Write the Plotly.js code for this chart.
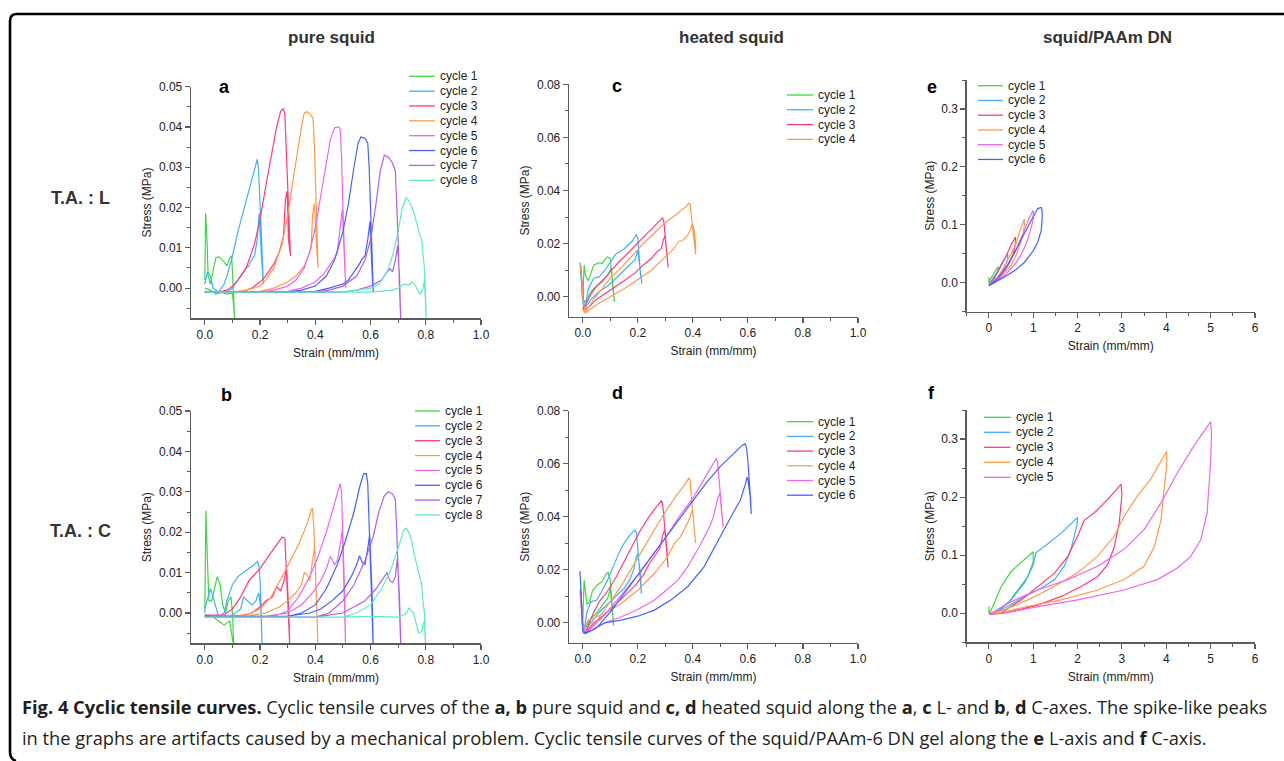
<!DOCTYPE html>
<html><head><meta charset="utf-8">
<script src="https://cdn.plot.ly/plotly-3.0.1.min.js"></script>
<style>html,body{margin:0;padding:0;background:#fff;} #chart{width:1284px;height:761px;}</style>
</head><body><div id="chart"></div>
<script>
// ---------------- DATA ----------------
const CYCLE_NAMES = ['cycle 1','cycle 2','cycle 3','cycle 4','cycle 5','cycle 6','cycle 7','cycle 8'];
const CYCLE_COLORS = ['#3ed83e','#3daeff','#ff3a7f','#ff9a48','#ee66ee','#4461ff','#b05cf0','#59eeb8'];
const COLUMN_TITLES = ['pure squid','heated squid','squid/PAAm DN'];
const ROW_TITLES = ['T.A. : L','T.A. : C'];
const X_TITLE = 'Strain (mm/mm)';
const Y_TITLE = 'Stress (MPa)';

// Panel a: pure squid, L-axis
const a1_strain = [0.0,0.003,0.008,0.012,0.02,0.03,0.04,0.05,0.06,0.07,0.08,0.09,0.097,0.1,0.103,0.106,0.11,0.1,0.08,0.06,0.04,0.02,0.0];
const a1_stress = [0.002,0.0185,0.012,0.003,0.001,0.004,0.0075,0.0078,0.0072,0.0065,0.0055,0.0075,0.008,0.005,0.0,-0.005,-0.009,-0.0012,-0.0015,-0.001,-0.0015,-0.0005,0.0];
const a2_strain = [0.0,0.01,0.02,0.03,0.05,0.07,0.08,0.1,0.12,0.15,0.17,0.185,0.19,0.195,0.2,0.205,0.21,0.212,0.205,0.197,0.19,0.18,0.165,0.16,0.15,0.12,0.1,0.08,0.05,0.02,0.0];
const a2_stress = [0.001,0.004,0.003,0.0,-0.001,0.001,0.003,0.008,0.014,0.022,0.027,0.031,0.032,0.029,0.02,0.012,0.003,0.001,0.008,0.0185,0.012,0.008,0.0065,0.0055,0.005,0.002,0.0,-0.001,-0.0012,-0.001,-0.001];
const a3_strain = [0.0,0.05,0.08,0.1,0.12,0.15,0.18,0.2,0.22,0.24,0.26,0.275,0.285,0.29,0.295,0.3,0.305,0.31,0.303,0.298,0.292,0.285,0.27,0.25,0.22,0.2,0.17,0.14,0.1,0.05,0.0];
const a3_stress = [-0.001,-0.001,-0.0005,0.0005,0.002,0.005,0.011,0.017,0.025,0.033,0.04,0.044,0.0445,0.043,0.035,0.025,0.015,0.008,0.012,0.024,0.022,0.013,0.009,0.006,0.003,0.0015,0.0,-0.0008,-0.001,-0.001,-0.001];
const a4_strain = [0.0,0.1,0.15,0.2,0.22,0.25,0.28,0.3,0.32,0.34,0.35,0.36,0.37,0.385,0.392,0.397,0.402,0.406,0.41,0.405,0.397,0.39,0.385,0.375,0.36,0.33,0.3,0.25,0.2,0.1,0.0];
const a4_stress = [-0.001,-0.001,-0.0005,0.0005,0.002,0.005,0.011,0.018,0.027,0.036,0.04,0.0435,0.0438,0.043,0.042,0.035,0.025,0.015,0.005,0.01,0.021,0.018,0.01,0.008,0.0055,0.003,0.0015,0.0,-0.0008,-0.001,-0.001];
const a5_strain = [0.0,0.2,0.25,0.3,0.33,0.36,0.38,0.4,0.42,0.44,0.455,0.47,0.485,0.49,0.495,0.5,0.505,0.51,0.505,0.498,0.49,0.48,0.47,0.455,0.43,0.4,0.35,0.3,0.2,0.0];
const a5_stress = [-0.001,-0.001,-0.0005,0.0005,0.002,0.005,0.009,0.015,0.023,0.031,0.037,0.0398,0.04,0.0395,0.033,0.02,0.01,0.0,0.008,0.0195,0.015,0.009,0.0075,0.006,0.0035,0.0015,0.0,-0.0008,-0.001,-0.001];
const a6_strain = [0.0,0.3,0.35,0.4,0.44,0.47,0.5,0.52,0.54,0.555,0.565,0.58,0.59,0.595,0.6,0.605,0.61,0.605,0.598,0.59,0.58,0.57,0.56,0.54,0.52,0.5,0.45,0.4,0.3,0.0];
const a6_stress = [-0.001,-0.001,-0.0005,0.0005,0.003,0.007,0.014,0.021,0.03,0.036,0.0375,0.0372,0.036,0.03,0.02,0.01,-0.001,0.005,0.0165,0.012,0.008,0.0073,0.006,0.004,0.002,0.001,0.0,-0.0008,-0.001,-0.001];
const a7_strain = [0.0,0.4,0.45,0.5,0.55,0.58,0.6,0.62,0.635,0.65,0.665,0.68,0.69,0.695,0.7,0.705,0.71,0.705,0.698,0.69,0.68,0.67,0.66,0.64,0.6,0.55,0.5,0.0];
const a7_stress = [-0.001,-0.001,-0.0005,0.0005,0.003,0.007,0.012,0.021,0.029,0.033,0.0325,0.031,0.029,0.022,0.012,0.0,-0.009,0.003,0.0105,0.007,0.004,0.0048,0.004,0.002,0.0005,-0.0005,-0.001,-0.001];
const a8_strain = [0.0,0.5,0.55,0.6,0.63,0.66,0.68,0.7,0.715,0.73,0.745,0.76,0.775,0.785,0.795,0.8,0.803,0.795,0.79,0.78,0.77,0.76,0.75,0.74,0.72,0.7,0.68,0.6,0.0];
const a8_stress = [-0.001,-0.001,-0.0005,0.0,0.001,0.004,0.008,0.014,0.02,0.0225,0.021,0.018,0.014,0.012,0.005,-0.003,-0.009,0.002,0.0,-0.0015,-0.0005,0.001,0.0015,0.0008,0.001,0.0,-0.0005,-0.001,-0.001];

// Panel b: pure squid, C-axis
const b1_strain = [0.0,0.004,0.01,0.015,0.025,0.035,0.045,0.055,0.065,0.075,0.085,0.095,0.1,0.103,0.106,0.09,0.07,0.05,0.03,0.0];
const b1_stress = [0.0,0.0253,0.012,0.003,0.003,0.006,0.009,0.007,0.002,0.0,0.003,0.004,0.0,-0.005,-0.009,-0.002,-0.003,-0.002,-0.001,-0.0005];
const b2_strain = [0.0,0.02,0.03,0.05,0.07,0.08,0.1,0.12,0.15,0.18,0.19,0.195,0.2,0.205,0.208,0.203,0.195,0.185,0.17,0.15,0.14,0.13,0.1,0.05,0.0];
const b2_stress = [0.001,0.006,0.004,-0.001,0.0,0.003,0.007,0.009,0.0105,0.012,0.0128,0.012,0.008,0.0,-0.009,0.001,0.005,0.003,0.002,0.0035,0.004,0.001,-0.0005,-0.0008,-0.0005];
const b3_strain = [0.0,0.07,0.1,0.13,0.16,0.2,0.23,0.26,0.28,0.29,0.295,0.3,0.305,0.308,0.303,0.296,0.287,0.275,0.26,0.245,0.22,0.2,0.17,0.12,0.0];
const b3_stress = [-0.0005,-0.0005,0.001,0.004,0.008,0.011,0.014,0.017,0.0188,0.0185,0.012,0.004,-0.003,-0.009,0.002,0.011,0.008,0.0055,0.0065,0.004,0.003,0.0015,0.0,-0.0008,-0.0008];
const b4_strain = [0.0,0.15,0.2,0.24,0.28,0.31,0.34,0.37,0.385,0.39,0.395,0.4,0.405,0.41,0.405,0.398,0.39,0.38,0.37,0.36,0.35,0.33,0.3,0.27,0.22,0.15,0.0];
const b4_stress = [-0.0008,-0.0005,0.001,0.004,0.009,0.013,0.017,0.022,0.0255,0.026,0.021,0.012,0.0,-0.009,0.005,0.0165,0.013,0.008,0.0095,0.01,0.007,0.005,0.003,0.0015,0.0,-0.0008,-0.0008];
const b5_strain = [0.0,0.25,0.3,0.34,0.38,0.41,0.44,0.46,0.48,0.49,0.495,0.5,0.505,0.51,0.505,0.498,0.49,0.48,0.47,0.455,0.44,0.42,0.39,0.35,0.3,0.2,0.0];
const b5_stress = [-0.001,-0.0008,0.0005,0.004,0.009,0.014,0.02,0.025,0.03,0.032,0.03,0.02,0.008,-0.009,0.006,0.0205,0.017,0.013,0.012,0.014,0.011,0.008,0.005,0.002,0.0,-0.001,-0.001];
const b6_strain = [0.0,0.3,0.35,0.4,0.44,0.48,0.51,0.54,0.56,0.575,0.585,0.59,0.595,0.6,0.605,0.61,0.605,0.597,0.59,0.58,0.57,0.56,0.55,0.53,0.5,0.46,0.42,0.38,0.3,0.0];
const b6_stress = [-0.0008,-0.0008,0.0,0.002,0.006,0.012,0.018,0.025,0.031,0.0345,0.0345,0.032,0.022,0.012,0.0,-0.009,0.006,0.0195,0.016,0.012,0.0125,0.0142,0.012,0.009,0.0055,0.003,0.001,0.0,-0.0008,-0.0008];
const b7_strain = [0.0,0.4,0.45,0.5,0.54,0.58,0.61,0.63,0.65,0.665,0.68,0.69,0.695,0.7,0.705,0.71,0.705,0.697,0.69,0.68,0.67,0.66,0.65,0.62,0.58,0.54,0.5,0.4,0.0];
const b7_stress = [-0.001,-0.001,0.0,0.003,0.007,0.013,0.019,0.025,0.029,0.03,0.0295,0.028,0.02,0.01,0.0,-0.009,0.004,0.0135,0.009,0.0075,0.008,0.01,0.009,0.006,0.003,0.0015,0.0,-0.001,-0.001];
const b8_strain = [0.0,0.5,0.55,0.6,0.64,0.67,0.7,0.72,0.73,0.745,0.76,0.775,0.785,0.79,0.795,0.8,0.795,0.79,0.785,0.775,0.765,0.755,0.745,0.74,0.73,0.72,0.7,0.6,0.5,0.0];
const b8_stress = [-0.001,-0.001,0.0,0.002,0.006,0.01,0.016,0.0205,0.021,0.019,0.014,0.01,0.007,0.003,0.0,-0.009,-0.002,-0.003,-0.0045,-0.005,-0.0025,0.0,0.0008,0.0012,0.0,-0.0005,-0.001,-0.0008,-0.001,-0.001];

// Panel c: heated squid, L-axis
const c1_strain = [-0.008,-0.003,0.0,0.005,0.01,0.02,0.03,0.04,0.06,0.07,0.08,0.09,0.1,0.105,0.11,0.115,0.112,0.104,0.09,0.07,0.05,0.03,0.015,0.005,0.0];
const c1_stress = [0.012,0.004,-0.001,0.012,0.008,0.006,0.009,0.012,0.0128,0.0125,0.014,0.015,0.0145,0.01,0.003,-0.002,0.002,0.011,0.008,0.0055,0.004,0.002,-0.001,-0.002,0.0];
const c2_strain = [-0.01,-0.005,0.0,0.005,0.01,0.02,0.04,0.06,0.08,0.1,0.12,0.15,0.18,0.195,0.2,0.205,0.21,0.215,0.21,0.2,0.19,0.17,0.15,0.12,0.09,0.06,0.03,0.01,0.0];
const c2_stress = [0.013,0.005,-0.002,-0.004,-0.003,0.003,0.007,0.0075,0.01,0.013,0.016,0.018,0.021,0.0235,0.022,0.015,0.008,0.005,0.01,0.0175,0.014,0.012,0.01,0.007,0.004,0.002,-0.001,-0.004,-0.004];
const c3_strain = [-0.008,0.0,0.005,0.01,0.03,0.05,0.08,0.1,0.13,0.16,0.2,0.23,0.26,0.29,0.295,0.3,0.305,0.31,0.305,0.299,0.293,0.285,0.27,0.25,0.22,0.19,0.15,0.12,0.09,0.05,0.02,0.005,0.0];
const c3_stress = [0.012,0.0,-0.004,-0.003,0.001,0.004,0.007,0.0095,0.013,0.016,0.0205,0.0235,0.0265,0.0298,0.028,0.022,0.016,0.011,0.016,0.023,0.0215,0.018,0.017,0.0145,0.012,0.009,0.006,0.004,0.002,-0.001,-0.004,-0.005,-0.004];
const c4_strain = [-0.008,0.0,0.008,0.02,0.04,0.07,0.1,0.14,0.18,0.22,0.26,0.3,0.34,0.37,0.385,0.39,0.395,0.4,0.405,0.41,0.41,0.405,0.398,0.39,0.38,0.36,0.35,0.33,0.3,0.25,0.2,0.15,0.1,0.05,0.01,0.0];
const c4_stress = [0.012,0.0,-0.006,-0.004,-0.001,0.003,0.007,0.011,0.0155,0.02,0.024,0.028,0.031,0.0335,0.0352,0.035,0.03,0.025,0.02,0.016,0.02,0.025,0.0275,0.025,0.023,0.021,0.021,0.018,0.015,0.01,0.0065,0.003,0.0,-0.003,-0.006,-0.005];

// Panel d: heated squid, C-axis
const d1_strain = [-0.008,0.0,0.005,0.01,0.015,0.025,0.035,0.05,0.07,0.085,0.092,0.1,0.105,0.11,0.112,0.108,0.1,0.09,0.08,0.06,0.045,0.03,0.02,0.01,0.0];
const d1_stress = [0.013,0.0,0.016,0.01,0.007,0.008,0.012,0.014,0.0155,0.0185,0.019,0.016,0.01,0.003,-0.001,0.005,0.013,0.009,0.008,0.005,0.003,0.002,0.0,-0.002,0.0];
const d2_strain = [-0.01,0.0,0.005,0.015,0.03,0.05,0.07,0.09,0.11,0.13,0.15,0.17,0.19,0.195,0.2,0.205,0.21,0.213,0.21,0.2,0.195,0.185,0.17,0.15,0.12,0.09,0.06,0.03,0.01,0.0];
const d2_stress = [0.012,-0.002,-0.003,0.004,0.008,0.0085,0.012,0.016,0.021,0.026,0.03,0.033,0.035,0.034,0.028,0.02,0.015,0.011,0.018,0.026,0.025,0.02,0.016,0.013,0.01,0.007,0.004,0.0,-0.003,-0.002];
const d3_strain = [-0.008,0.0,0.01,0.02,0.04,0.06,0.09,0.12,0.15,0.18,0.21,0.24,0.27,0.285,0.29,0.295,0.3,0.305,0.31,0.305,0.298,0.29,0.28,0.26,0.24,0.22,0.19,0.16,0.12,0.08,0.04,0.01,0.0];
const d3_stress = [0.012,-0.002,-0.004,-0.001,0.004,0.008,0.012,0.017,0.023,0.029,0.035,0.04,0.044,0.046,0.045,0.04,0.034,0.028,0.021,0.028,0.035,0.033,0.028,0.025,0.022,0.018,0.014,0.011,0.007,0.003,0.0,-0.004,-0.003];
const d4_strain = [-0.008,0.0,0.01,0.03,0.06,0.1,0.14,0.18,0.22,0.26,0.3,0.34,0.37,0.385,0.39,0.395,0.4,0.405,0.41,0.407,0.399,0.39,0.38,0.355,0.333,0.309,0.26,0.2,0.14,0.08,0.02,0.0];
const d4_stress = [0.012,-0.001,-0.004,-0.002,0.002,0.008,0.014,0.021,0.028,0.035,0.042,0.048,0.052,0.0545,0.054,0.047,0.042,0.035,0.03,0.035,0.043,0.04,0.0375,0.0325,0.03,0.025,0.0186,0.0123,0.0073,0.0035,0.001,-0.003];
const d5_strain = [-0.008,0.0,0.01,0.04,0.08,0.12,0.16,0.2,0.25,0.3,0.35,0.4,0.44,0.47,0.485,0.49,0.495,0.5,0.505,0.51,0.505,0.498,0.49,0.475,0.46,0.44,0.42,0.38,0.345,0.3,0.26,0.2,0.14,0.08,0.03,0.0];
const d5_stress = [0.012,-0.002,-0.004,-0.001,0.003,0.008,0.013,0.018,0.025,0.032,0.04,0.047,0.054,0.059,0.062,0.0605,0.055,0.048,0.042,0.036,0.042,0.049,0.047,0.04,0.036,0.032,0.028,0.021,0.016,0.012,0.0085,0.005,0.0023,0.0,-0.003,-0.003];
const d6_strain = [-0.01,-0.005,0.0,0.01,0.05,0.1,0.15,0.2,0.25,0.3,0.35,0.4,0.45,0.5,0.55,0.58,0.59,0.595,0.6,0.605,0.61,0.612,0.608,0.6,0.597,0.59,0.573,0.549,0.5,0.44,0.381,0.32,0.26,0.2,0.14,0.08,0.03,0.0];
const d6_stress = [0.0195,0.01,-0.003,-0.004,-0.002,0.004,0.011,0.018,0.025,0.032,0.039,0.046,0.053,0.059,0.064,0.067,0.0675,0.066,0.061,0.055,0.046,0.041,0.048,0.054,0.055,0.052,0.0463,0.042,0.0325,0.021,0.0136,0.0086,0.0048,0.0025,0.001,0.0,-0.003,-0.004];

// Panel e: squid/PAAm DN, L-axis
const e1_strain = [0.0,0.0,0.05,0.1,0.15,0.2,0.22,0.2,0.15,0.1,0.05,0.0];
const e1_stress = [0.01,0.0,0.008,0.015,0.021,0.026,0.028,0.02,0.012,0.005,0.0,0.0];
const e2_strain = [0.0,0.1,0.2,0.3,0.4,0.43,0.42,0.35,0.25,0.15,0.05,0.0];
const e2_stress = [-0.003,0.008,0.02,0.035,0.047,0.05,0.04,0.025,0.012,0.003,-0.002,-0.003];
const e3_strain = [0.0,0.1,0.2,0.3,0.4,0.5,0.6,0.6,0.55,0.45,0.35,0.25,0.15,0.05,0.0];
const e3_stress = [-0.004,0.005,0.018,0.032,0.048,0.065,0.079,0.068,0.05,0.033,0.02,0.01,0.002,-0.003,-0.004];
const e4_strain = [0.0,0.2,0.4,0.6,0.7,0.8,0.8,0.78,0.7,0.6,0.5,0.4,0.3,0.2,0.1,0.0];
const e4_stress = [-0.004,0.01,0.035,0.065,0.09,0.11,0.1,0.088,0.065,0.045,0.03,0.02,0.012,0.005,0.0,-0.004];
const e5_strain = [0.0,0.2,0.4,0.6,0.8,0.9,1.0,1.0,0.97,0.9,0.8,0.7,0.6,0.5,0.4,0.3,0.2,0.1,0.0];
const e5_stress = [-0.005,0.005,0.025,0.055,0.09,0.11,0.125,0.11,0.1,0.08,0.06,0.045,0.033,0.024,0.016,0.009,0.004,0.0,-0.005];
const e6_strain = [0.0,0.2,0.4,0.6,0.8,1.0,1.1,1.18,1.2,1.2,1.18,1.1,1.0,0.8,0.6,0.4,0.2,0.1,0.0];
const e6_stress = [-0.005,0.008,0.028,0.055,0.085,0.115,0.128,0.13,0.125,0.11,0.09,0.07,0.055,0.035,0.022,0.012,0.004,0.0,-0.005];

// Panel f: squid/PAAm DN, C-axis
const f1_strain = [0.0,0.0,0.05,0.28,0.5,0.8,1.0,1.0,0.95,0.88,0.65,0.43,0.2,0.05,0.0];
const f1_stress = [0.012,0.0,0.005,0.046,0.072,0.092,0.106,0.089,0.078,0.063,0.04,0.017,0.003,0.0,0.0];
const f2_strain = [0.05,0.13,0.5,0.8,0.99,1.06,1.25,1.63,2.0,1.99,1.96,1.85,1.7,1.48,1.18,0.8,0.43,0.13];
const f2_stress = [-0.003,0.0,0.023,0.052,0.081,0.104,0.115,0.138,0.165,0.155,0.144,0.11,0.081,0.058,0.043,0.029,0.012,0.0];
const f3_strain = [0.0,0.26,0.73,1.1,1.48,1.78,2.0,2.15,2.38,2.68,2.98,3.0,2.98,2.94,2.83,2.68,2.45,2.08,1.63,1.1,0.5,0.0];
const f3_stress = [-0.002,0.0,0.023,0.046,0.069,0.098,0.133,0.16,0.173,0.196,0.222,0.205,0.19,0.156,0.115,0.084,0.063,0.046,0.029,0.014,0.003,-0.002];
const f4_strain = [0.0,0.35,0.88,1.48,2.0,2.45,2.83,3.05,3.35,3.65,4.01,4.01,3.95,3.88,3.73,3.5,3.05,2.45,1.63,0.88,0.2,0.0];
const f4_stress = [-0.002,0.006,0.023,0.046,0.07,0.098,0.133,0.167,0.202,0.231,0.279,0.254,0.213,0.16,0.115,0.081,0.058,0.04,0.023,0.012,0.0,-0.002];
const f5_strain = [0.0,0.5,1.1,1.78,2.45,3.05,3.5,3.88,4.25,4.63,5.0,5.02,5.0,4.92,4.78,4.55,4.25,3.8,3.05,2.0,1.1,0.35,0.0];
const f5_stress = [-0.002,0.02,0.04,0.058,0.081,0.11,0.144,0.19,0.242,0.289,0.33,0.309,0.26,0.173,0.127,0.098,0.078,0.058,0.04,0.023,0.0115,0.0,-0.002];

// ---------------- LAYOUT ----------------
const W = 1284, H = 761;
const px = v => v / W;
const py = v => 1 - v / H;
const AXIS_COLOR = '#5c5c5c';
const TEXT_COLOR = '#222';
const FONT = 'Liberation Sans, Arial, sans-serif';

const PANELS = [
  {letter:'a', box:[191,481,86.7,318.3], xr:[-0.05,1.0], yr:[-0.0075,0.05], xd:0.2, xm:0.1, xf:'.1f', yd:0.01, ym:0.005, yf:'.2f',
   series:[[a1_strain,a1_stress],[a2_strain,a2_stress],[a3_strain,a3_stress],[a4_strain,a4_stress],[a5_strain,a5_stress],[a6_strain,a6_stress],[a7_strain,a7_stress],[a8_strain,a8_stress]],
   leg:{l0:409,l1:435,t:438,y0:76.3,dy:14.85}, lp:[224.5,86.5]},
  {letter:'c', box:[569,858,84.3,316.7], xr:[-0.05,1.0], yr:[-0.0075,0.08], xd:0.2, xm:0.1, xf:'.1f', yd:0.02, ym:0.01, yf:'.2f',
   series:[[c1_strain,c1_stress],[c2_strain,c2_stress],[c3_strain,c3_stress],[c4_strain,c4_stress]],
   leg:{l0:787,l1:813,t:816,y0:95,dy:14.8}, lp:[617,86]},
  {letter:'e', box:[966.7,1255,80,311.7], xr:[-0.5,6], yr:[-0.05,0.35], xd:1, xm:0.5, xf:'d', yd:0.1, ym:0.05, yf:'.1f',
   series:[[e1_strain,e1_stress],[e2_strain,e2_stress],[e3_strain,e3_stress],[e4_strain,e4_stress],[e5_strain,e5_stress],[e6_strain,e6_stress]],
   leg:{l0:978,l1:1003,t:1005.5,y0:85.7,dy:14.75}, lp:[932,86.5]},
  {letter:'b', box:[191,481,411,643.3], xr:[-0.05,1.0], yr:[-0.0075,0.05], xd:0.2, xm:0.1, xf:'.1f', yd:0.01, ym:0.005, yf:'.2f',
   series:[[b1_strain,b1_stress],[b2_strain,b2_stress],[b3_strain,b3_stress],[b4_strain,b4_stress],[b5_strain,b5_stress],[b6_strain,b6_stress],[b7_strain,b7_stress],[b8_strain,b8_stress]],
   leg:{l0:415,l1:440,t:443,y0:411,dy:14.85}, lp:[226.5,394.5]},
  {letter:'d', box:[569,858,410.7,642.7], xr:[-0.05,1.0], yr:[-0.0075,0.08], xd:0.2, xm:0.1, xf:'.1f', yd:0.02, ym:0.01, yf:'.2f',
   series:[[d1_strain,d1_stress],[d2_strain,d2_stress],[d3_strain,d3_stress],[d4_strain,d4_stress],[d5_strain,d5_stress],[d6_strain,d6_stress]],
   leg:{l0:787,l1:813,t:816,y0:421.7,dy:14.7}, lp:[617.5,393]},
  {letter:'f', box:[966.7,1255,410,642.3], xr:[-0.5,6], yr:[-0.05,0.35], xd:1, xm:0.5, xf:'d', yd:0.1, ym:0.05, yf:'.1f',
   series:[[f1_strain,f1_stress],[f2_strain,f2_stress],[f3_strain,f3_stress],[f4_strain,f4_stress],[f5_strain,f5_stress]],
   leg:{l0:984,l1:1010.5,t:1014,y0:417.3,dy:15}, lp:[931,392.5]}
];

const traces = [];
const layout = {
  width: W, height: H,
  margin: {l:0, r:0, t:0, b:0},
  paper_bgcolor: '#fff', plot_bgcolor: 'rgba(0,0,0,0)',
  showlegend: false,
  font: {family: FONT, size: 12, color: TEXT_COLOR},
  annotations: [], shapes: []
};

PANELS.forEach((p, i) => {
  const n = i + 1;
  const xk = 'xaxis' + (n === 1 ? '' : n), yk = 'yaxis' + (n === 1 ? '' : n);
  const xa = 'x' + (n === 1 ? '' : n), ya = 'y' + (n === 1 ? '' : n);
  const common = {
    showline: true, linecolor: AXIS_COLOR, linewidth: 1.3, mirror: false,
    ticks: 'outside', ticklen: 5, tickwidth: 1.1, tickcolor: AXIS_COLOR,
    showgrid: false, zeroline: false, fixedrange: true, automargin: false,
    tickfont: {family: FONT, size: 12, color: TEXT_COLOR}, tick0: 0
  };
  layout[xk] = Object.assign({}, common, {
    domain: [px(p.box[0]), px(p.box[1])], range: p.xr, anchor: ya,
    dtick: p.xd, tickformat: p.xf,
    minor: {ticks: 'outside', ticklen: 3, tickwidth: 1, tickcolor: AXIS_COLOR, dtick: p.xm, tick0: 0, showgrid: false},
    title: {text: X_TITLE, font: {family: FONT, size: 12, color: TEXT_COLOR}, standoff: 7}
  });
  layout[yk] = Object.assign({}, common, {
    domain: [py(p.box[3]), py(p.box[2])], range: p.yr, anchor: xa,
    dtick: p.yd, tickformat: p.yf,
    minor: {ticks: 'outside', ticklen: 3, tickwidth: 1, tickcolor: AXIS_COLOR, dtick: p.ym, tick0: 0, showgrid: false},
    title: {text: Y_TITLE, font: {family: FONT, size: 12, color: TEXT_COLOR}, standoff: 4}
  });
  p.series.forEach((s, k) => {
    traces.push({
      type: 'scatter', mode: 'lines', x: s[0], y: s[1], xaxis: xa, yaxis: ya,
      name: CYCLE_NAMES[k], line: {color: CYCLE_COLORS[k], width: 1.2}, hoverinfo: 'skip', showlegend: false
    });
    // custom legend entry
    const ly = p.leg.y0 + k * p.leg.dy;
    layout.shapes.push({type: 'line', xref: 'paper', yref: 'paper',
      x0: px(p.leg.l0), x1: px(p.leg.l1), y0: py(ly), y1: py(ly),
      line: {color: CYCLE_COLORS[k], width: 1.3}});
    layout.annotations.push({xref: 'paper', yref: 'paper', x: px(p.leg.t), y: py(ly),
      xanchor: 'left', yanchor: 'middle', showarrow: false, text: CYCLE_NAMES[k],
      font: {family: FONT, size: 12, color: TEXT_COLOR}});
  });
  layout.annotations.push({xref: 'paper', yref: 'paper', x: px(p.lp[0]), y: py(p.lp[1]),
    xanchor: 'center', yanchor: 'middle', showarrow: false, text: '<b>' + p.letter + '</b>',
    font: {family: FONT, size: 18, color: '#000'}});
});

// column headers
[[332, 38], [732, 38], [1107, 38]].forEach((c, i) => {
  layout.annotations.push({xref: 'paper', yref: 'paper', x: px(c[0]), y: py(c[1]),
    xanchor: 'center', yanchor: 'middle', showarrow: false, text: '<b>' + COLUMN_TITLES[i] + '</b>',
    font: {family: FONT, size: 17, color: '#333'}});
});
// row headers
[[81, 198], [81, 531]].forEach((c, i) => {
  layout.annotations.push({xref: 'paper', yref: 'paper', x: px(c[0]), y: py(c[1]),
    xanchor: 'center', yanchor: 'middle', showarrow: false, text: '<b>' + ROW_TITLES[i] + '</b>',
    font: {family: FONT, size: 18, color: '#333'}});
});
// caption
const CAPTION = [
  '<b>Fig. 4 Cyclic tensile curves.</b> Cyclic tensile curves of the <b>a, b</b> pure squid and <b>c, d</b> heated squid along the <b>a</b>, <b>c</b> L- and <b>b</b>, <b>d</b> C-axes. The spike-like peaks',
  'in the graphs are artifacts caused by a mechanical problem. Cyclic tensile curves of the squid/PAAm-6 DN gel along the <b>e</b> L-axis and <b>f</b> C-axis.'
];
[706, 737].forEach((yy, i) => {
  layout.annotations.push({xref: 'paper', yref: 'paper', x: px(20), y: py(yy),
    xanchor: 'left', yanchor: 'middle', showarrow: false, text: CAPTION[i],
    font: {family: 'Open Sans, Noto Sans, sans-serif', size: 18.3, color: '#231f20'}});
});
// frame
layout.shapes.push({type: 'path', xref: 'paper', yref: 'paper',
  path: `M ${px(1290)} ${py(14)} L ${px(17)} ${py(14)} Q ${px(10)} ${py(14)} ${px(10)} ${py(21)} L ${px(10)} ${py(752)} Q ${px(10)} ${py(759)} ${px(16)} ${py(761)}`,
  line: {color: '#000', width: 2.6}});

Plotly.newPlot('chart', traces, layout, {displayModeBar: false, staticPlot: true});
</script></body></html>
